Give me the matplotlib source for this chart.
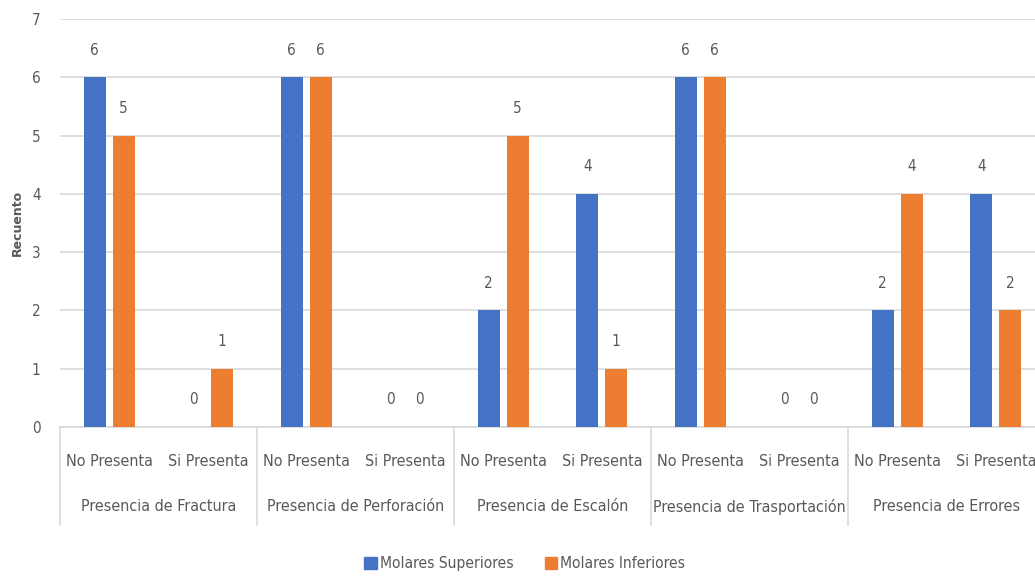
import matplotlib.pyplot as plt
from matplotlib.patches import Patch
import numpy as np

# Counts per outcome, upper vs lower molars
grupos = ['Presencia de Fractura', 'Presencia de Perforación', 'Presencia de Escalón',
          'Presencia de Trasportación', 'Presencia de Errores']
respuestas = ['No Presenta', 'Si Presenta']
superiores = [6, 0, 6, 0, 2, 4, 6, 0, 2, 4]
inferiores = [5, 1, 6, 0, 5, 1, 6, 0, 4, 2]

azul = '#4472C4'
naranja = '#ED7D31'
gris = '#595959'
plt.rcParams['font.family'] = ['DejaVu Sans']
plt.rcParams['font.stretch'] = 'condensed'

fig = plt.figure(figsize=(10.35, 5.76), dpi=100)
ax = fig.add_axes([0.058, 0.2587, 0.9517, 0.708])

x = np.arange(len(superiores))
w = 0.223
off = 0.147
b1 = ax.bar(x - off, superiores, w, color=azul, zorder=3)
b2 = ax.bar(x + off, inferiores, w, color=naranja, zorder=3)

# value labels above each bar
for bars, vals in ((b1, superiores), (b2, inferiores)):
    for b, v in zip(bars, vals):
        ax.annotate(str(v), (b.get_x() + b.get_width() / 2, v), xytext=(0, 27),
                    textcoords='offset pixels', ha='center', va='center',
                    fontsize=11, color=gris)

ax.set_xlim(-0.5, len(superiores) - 0.5)
ax.set_ylim(0, 7)
ax.set_yticks(range(8))
ax.yaxis.grid(True, color='#D9D9D9', linewidth=1.2, zorder=0)
ax.tick_params(axis='y', length=0, labelsize=11, labelcolor=gris, pad=14)
ax.set_xticks([])
for s in ['top', 'right', 'left']:
    ax.spines[s].set_visible(False)
ax.spines['bottom'].set_color('#D9D9D9')
ax.spines['bottom'].set_linewidth(1.2)

ax.set_ylabel('Recuento', fontsize=9, fontweight='bold', fontstretch='normal',
              color=gris, labelpad=6)

# two-level category axis
trans = ax.get_xaxis_transform()
for i in range(len(superiores)):
    ax.annotate(respuestas[i % 2], (i, 0), xycoords=trans, xytext=(0, -35),
                textcoords='offset pixels', ha='center', va='center',
                fontsize=11.5, color=gris)
for g, nombre in enumerate(grupos):
    ax.annotate(nombre, (2 * g + 0.5, 0), xycoords=trans, xytext=(0, -80),
                textcoords='offset pixels', ha='center', va='center',
                fontsize=11.5, color=gris)
for g in range(len(grupos) + 1):
    ax.plot([2 * g - 0.5] * 2, [0, -0.24], transform=trans, color='#D9D9D9',
            linewidth=1.2, clip_on=False)

handles = [Patch(color=azul, label='Molares Superiores'),
           Patch(color=naranja, label='Molares Inferiores')]
fig.legend(handles=handles, loc='center', bbox_to_anchor=(0.507, 0.021), ncol=2,
           frameon=False, fontsize=11.2, handlelength=0.8, handleheight=0.8,
           handletextpad=0.2, columnspacing=2.0, labelcolor=gris)

fig.savefig('out.png', dpi=100)
